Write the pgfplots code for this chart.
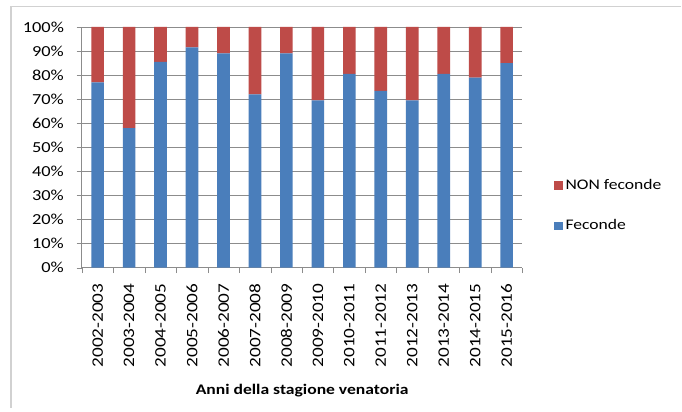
\documentclass[border=0pt]{standalone}
\usepackage{pgfplots}
\pgfplotsset{compat=1.18}
\usepackage{fontspec}
\setmainfont{Carlito}[FakeStretch=1.2]
\definecolor{exblue}{HTML}{4A7EBB}
\definecolor{exred}{HTML}{BE4B48}
\definecolor{gridgray}{HTML}{8C8C8C}
\begin{document}
\begin{tikzpicture}
\fill[white] (-61.5pt,-108pt) rectangle (450pt,201pt);
\draw[black!18, line width=1.2pt] (-53.25pt,-105pt) -- (-53.25pt,196pt) -- (450pt,196pt);
\begin{axis}[
  scale only axis,
  width=330.75pt, height=180.75pt,
  ybar stacked,
  bar width=9.5pt,
  xmin=-0.5, xmax=13.5,
  ymin=0, ymax=100,
  xtick={-0.5,0.5,...,13.5},
  xticklabels={},
  extra x ticks={0,...,13},
  extra x tick labels={2002-2003,2003-2004,2004-2005,2005-2006,2006-2007,2007-2008,2008-2009,2009-2010,2010-2011,2011-2012,2012-2013,2013-2014,2014-2015,2015-2016},
  extra x tick style={major tick length=0pt, grid=none,
    xticklabel style={rotate=90, anchor=east, font=\fontsize{12}{13}\selectfont, xshift=-8.5pt}},
  ytick={0,10,...,100},
  yticklabel={\pgfmathprintnumber{\tick}\%},
  y tick label style={font=\fontsize{11.5}{12}\selectfont, xshift=-6pt},
  /pgf/number format/assume math mode=true,
  ymajorgrids,
  grid style={gridgray, line width=0.6pt},
  axis x line*=bottom,
  axis y line*=left,
  axis line style={gridgray, line width=0.8pt, -},
  tick align=outside,
  major tick length=4pt,
  tick style={gridgray},
  xlabel={\fontsize{11}{12}\selectfont\bfseries Anni della stagione venatoria},
  xlabel style={yshift=-2pt},
  legend style={at={(1.063,0.257)}, anchor=west, draw=none, fill=none,
    font=\fontsize{11}{12}\selectfont, row sep=17pt},
  legend cell align=left,
  reverse legend,
  legend image code/.code={\fill[#1] (0pt,-3.2pt) rectangle (6.4pt,3.2pt);},
]
\addplot[fill=exblue, draw=none] coordinates {(0,77) (1,58) (2,85.5) (3,91.5) (4,89) (5,72) (6,89) (7,69.5) (8,80.5) (9,73.5) (10,69.5) (11,80.5) (12,79) (13,85)};
\addlegendentry{Feconde}
\addplot[fill=exred, draw=none] coordinates {(0,23) (1,42) (2,14.5) (3,8.5) (4,11) (5,28) (6,11) (7,30.5) (8,19.5) (9,26.5) (10,30.5) (11,19.5) (12,21) (13,15)};
\addlegendentry{NON feconde}
\end{axis}
\end{tikzpicture}
\end{document}
